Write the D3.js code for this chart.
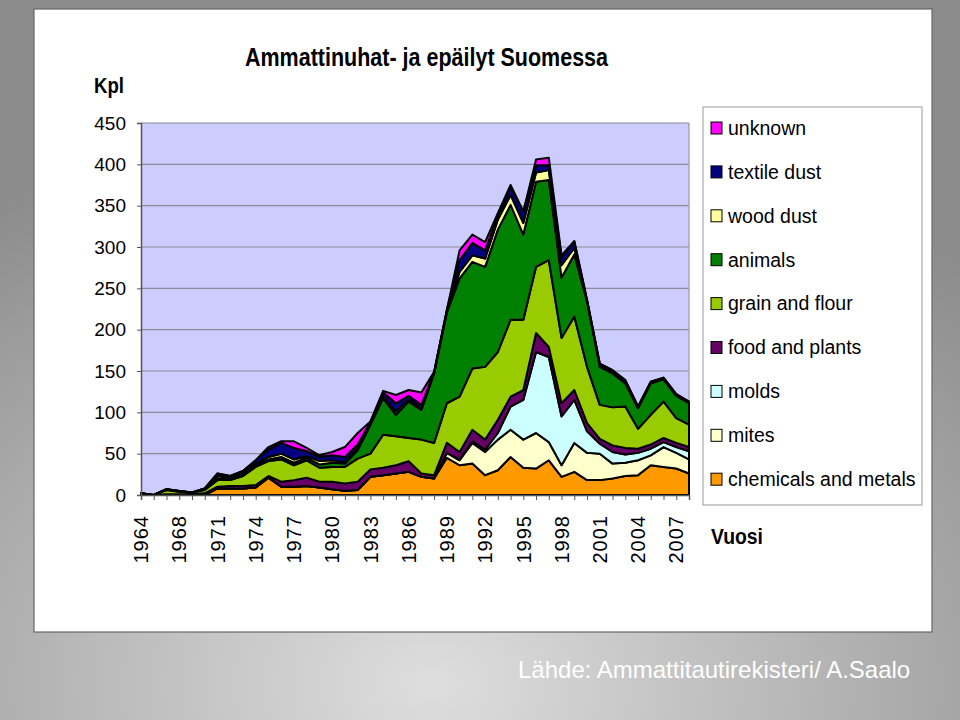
<!DOCTYPE html>
<html>
<head>
<meta charset="utf-8">
<script src="https://cdn.jsdelivr.net/npm/d3@7"></script>
<style>
  body { margin: 0; padding: 0; }
  svg { display: block; }
  text { font-family: "Liberation Sans", Arial, sans-serif; }
</style>
</head>
<body>
<svg id="chart" width="960" height="720"></svg>
<script>
'use strict';

// years on the category axis (two early years only)
var years = ['1964', '1965', '1967'];
for (var yr = 1968; yr <= 2008; yr++) { years.push(String(yr)); }

// one array per cause
var chemicals = [0,0,0,0,0,0,8,8,8,9,21,10,10,11,9,7,5,6,22,24,26,28,22,20,45,36,38,24,30,46,33,32,42,22,28,18,18,20,23,24,36,34,32,26];
var mites =     [0,0,0,0,0,0,0,0,0,0,0,0,0,0,0,0,0,0,0,0,0,0,0,0,6,6,25,28,37,33,34,43,22,14,35,33,32,18,16,18,12,24,19,17];
var molds =     [0,0,0,0,0,0,0,0,0,0,0,0,0,0,0,0,0,0,0,0,0,0,0,0,0,1,2,3,8,28,48,98,103,59,52,26,12,14,10,9,8,6,7,10];
var foodPlants =[0,0,1,1,1,2,2,3,3,3,2,6,8,10,7,9,9,10,9,9,10,13,4,4,12,9,14,12,16,12,12,23,12,16,12,10,6,8,8,5,5,5,5,5];
var grain =     [2,0,5,3,2,4,8,7,12,22,18,27,18,21,17,18,20,28,19,40,35,28,41,39,48,67,74,88,82,93,85,80,105,79,89,68,41,46,50,24,36,44,30,27];
var animals =   [0,0,1,1,0,1,2,1,2,2,2,3,3,3,4,5,4,10,35,44,26,44,36,84,110,143,129,121,148,139,103,103,97,73,75,79,46,41,28,25,38,27,27,26];
var woodDust =  [0,0,0,0,0,1,3,2,2,2,3,4,4,2,4,3,2,3,2,3,4,3,2,1,1,8,8,10,12,12,14,11,12,15,8,1,2,3,3,1,1,1,1,1];
var textile =   [0,0,0,0,0,0,3,2,2,4,9,13,14,6,5,6,6,4,1,4,10,4,4,1,2,14,15,10,4,10,14,9,6,10,8,1,2,1,1,1,1,1,1,1];
var unknown =   [0,0,0,0,0,0,0,0,0,0,3,2,8,4,2,4,12,14,1,2,10,7,15,0,0,12,10,10,4,2,0,7,9,2,0,0,0,0,0,0,0,0,0,0];

var seriesNames = ['chemicals and metals', 'mites', 'molds', 'food and plants', 'grain and flour',
                   'animals', 'wood dust', 'textile dust', 'unknown'];
var seriesValues = [chemicals, mites, molds, foodPlants, grain, animals, woodDust, textile, unknown];
var seriesColors = ['#FF9900', '#FFFFCC', '#CCFFFF', '#660066', '#99CC00',
                    '#008000', '#FFFF99', '#000080', '#FF00FF'];
var yTicks = [0, 50, 100, 150, 200, 250, 300, 350, 400, 450];

var svg = d3.select('#chart');

// gray slide background
var defs = svg.append('defs');
var grad = defs.append('radialGradient')
  .attr('id', 'bg').attr('cx', '0.45').attr('cy', '0.95').attr('r', '0.8');
grad.append('stop').attr('offset', '0').attr('stop-color', '#dedede');
grad.append('stop').attr('offset', '1').attr('stop-color', '#8c8c8c');
svg.append('rect').attr('width', 960).attr('height', 720).attr('fill', 'url(#bg)');

// white panel
svg.append('rect')
  .attr('x', 34).attr('y', 9).attr('width', 898).attr('height', 623)
  .attr('fill', '#fff').attr('stroke', '#666').attr('stroke-width', 1.2);

var plot = {left: 141, right: 689, top: 123, bottom: 495};

var table = years.map(function(y, i) {
  var row = {year: y};
  seriesNames.forEach(function(n, k) { row[n] = seriesValues[k][i]; });
  return row;
});

var x = d3.scalePoint().domain(years).range([plot.left, plot.right]);
var y = d3.scaleLinear().domain([0, 450]).range([plot.bottom, plot.top]);

svg.append('rect')
  .attr('x', plot.left).attr('y', plot.top)
  .attr('width', plot.right - plot.left).attr('height', plot.bottom - plot.top)
  .attr('fill', '#CCCCFF');

// gridlines
svg.append('g').selectAll('line')
  .data(yTicks.slice(1))
  .enter().append('line')
  .attr('x1', plot.left).attr('x2', plot.right)
  .attr('y1', function(d) { return y(d); }).attr('y2', function(d) { return y(d); })
  .attr('stroke', '#8a8a9a').attr('stroke-width', 1.2);

svg.append('line')
  .attr('x1', plot.right).attr('x2', plot.right)
  .attr('y1', plot.top).attr('y2', plot.bottom)
  .attr('stroke', '#999').attr('stroke-width', 1.2);

var stack = d3.stack().keys(seriesNames);
var layers = stack(table);

var area = d3.area()
  .x(function(d) { return x(d.data.year); })
  .y0(function(d) { return y(d[0]); })
  .y1(function(d) { return y(d[1]); });

svg.append('g').selectAll('path')
  .data(layers)
  .enter().append('path')
  .attr('d', area)
  .attr('fill', function(d, i) { return seriesColors[i]; })
  .attr('stroke', '#000')
  .attr('stroke-width', 2)
  .attr('stroke-linejoin', 'round');

// axes
var yAxis = d3.axisLeft(y).tickValues(yTicks).tickSize(4).tickPadding(11);
var gy = svg.append('g').attr('transform', 'translate(' + plot.left + ',0)').call(yAxis);
gy.select('.domain').attr('stroke', '#555').attr('stroke-width', 1.5);
gy.selectAll('.tick line').attr('stroke', '#555');
gy.selectAll('.tick text').attr('font-size', 19).attr('fill', '#000')
  .attr('font-family', '"Liberation Sans", Arial, sans-serif');

var xAxis = d3.axisBottom(x).tickSize(5).tickFormat('');
var gx = svg.append('g').attr('transform', 'translate(0,' + plot.bottom + ')').call(xAxis);
gx.select('.domain').attr('stroke', '#555').attr('stroke-width', 1.5);
gx.selectAll('.tick line').attr('stroke', '#555');

svg.append('g').selectAll('text')
  .data(years.filter(function(d, i) { return i % 3 === 0; }))
  .enter().append('text')
  .attr('transform', function(d) { return 'translate(' + x(d) + ',515) rotate(-90)'; })
  .attr('text-anchor', 'end')
  .attr('dy', '0.36em')
  .attr('font-size', 20)
  .attr('letter-spacing', 1)
  .text(function(d) { return d; });

// titles
svg.append('text')
  .attr('x', 245).attr('y', 66)
  .attr('font-size', 25).attr('font-weight', 'bold')
  .attr('font-family', '"Liberation Sans Narrow", "Arial Narrow", sans-serif')
  .attr('textLength', 363).attr('lengthAdjust', 'spacingAndGlyphs')
  .text('Ammattinuhat- ja epäilyt Suomessa');

svg.append('text')
  .attr('x', 94).attr('y', 93)
  .attr('font-size', 22).attr('font-weight', 'bold')
  .attr('font-family', '"Liberation Sans Narrow", "Arial Narrow", sans-serif')
  .attr('textLength', 30).attr('lengthAdjust', 'spacingAndGlyphs')
  .text('Kpl');

svg.append('text')
  .attr('x', 711).attr('y', 544)
  .attr('font-size', 22).attr('font-weight', 'bold')
  .attr('font-family', '"Liberation Sans Narrow", "Arial Narrow", sans-serif')
  .attr('textLength', 52).attr('lengthAdjust', 'spacingAndGlyphs')
  .text('Vuosi');

// legend
svg.append('rect')
  .attr('x', 703).attr('y', 107).attr('width', 219).attr('height', 398)
  .attr('fill', '#fff').attr('stroke', '#999').attr('stroke-width', 1);

var legendOrder = seriesNames.slice().reverse();
var legend = svg.append('g').selectAll('g')
  .data(legendOrder)
  .enter().append('g')
  .attr('transform', function(d, i) { return 'translate(0,' + (128 + i * 43.9) + ')'; });

legend.append('rect')
  .attr('x', 711).attr('y', -6).attr('width', 11).attr('height', 12)
  .attr('fill', function(d) { return seriesColors[seriesNames.indexOf(d)]; })
  .attr('stroke', '#000').attr('stroke-width', 1);

legend.append('text')
  .attr('x', 728).attr('dy', '0.35em')
  .attr('font-size', 19.5)
  .text(function(d) { return d; });

// source line
svg.append('text')
  .attr('x', 518).attr('y', 678)
  .attr('font-size', 24).attr('fill', '#fff')
  .text('Lähde: Ammattitautirekisteri/ A.Saalo');
</script>
</body>
</html>
